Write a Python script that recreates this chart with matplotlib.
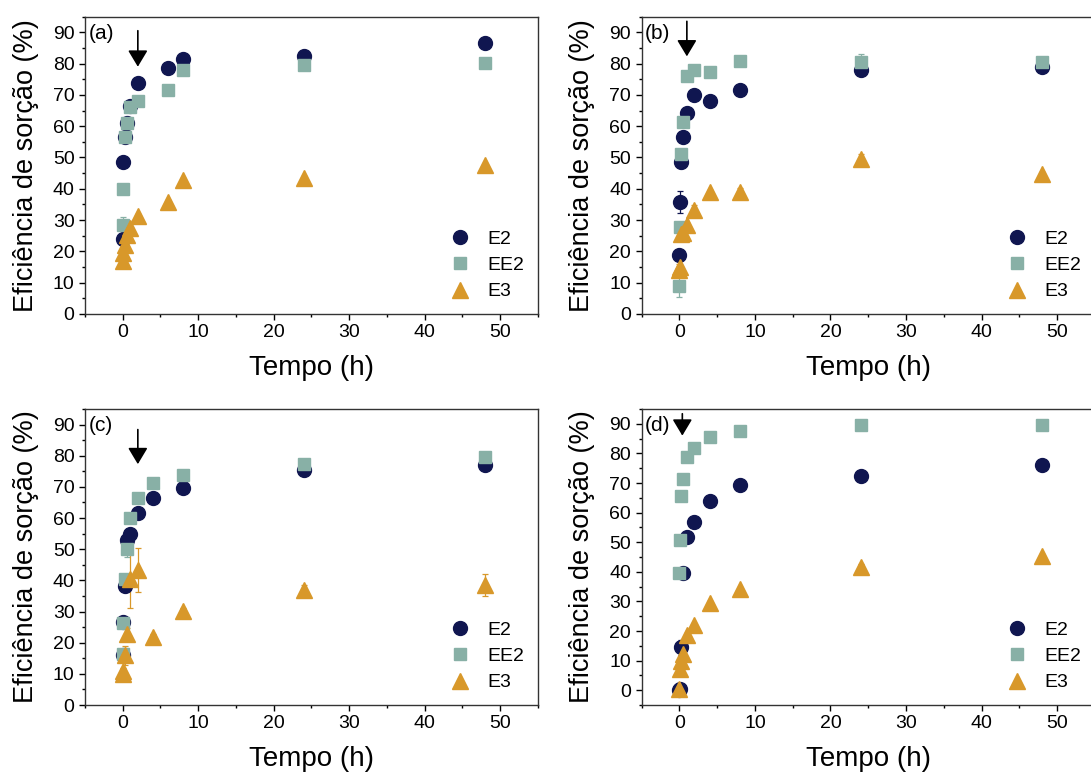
import matplotlib
matplotlib.use('Agg')
import matplotlib.pyplot as plt
import numpy as np
from matplotlib.ticker import MultipleLocator

plt.rcParams['font.family'] = ['Liberation Sans', 'DejaVu Sans']

# Tempos de coleta (h)
t_a = [0, 0.083, 0.25, 0.5, 1, 2, 6, 8, 24, 48]
t_bcd = [0, 0.083, 0.25, 0.5, 1, 2, 4, 8, 24, 48]

# (a)
e2_a = [24.0, 48.5, 56.5, 61.0, 66.3, 73.9, 78.7, 81.6, 82.5, 86.5]
ee2_a = [28.5, 39.9, 56.5, 61.0, 66.0, 68.2, 71.7, 78.1, 79.5, 80.3]
e3_a = [17.0, 19.4, 22.0, 25.3, 27.6, 31.3, 35.9, 42.9, 43.5, 47.5]
e2_a_err = [0.5, 0.5, 0.5, 0.5, 0.5, 0.5, 0.5, 0.5, 0.5, 0.5]
ee2_a_err = [2.5, 0.5, 0.5, 0.5, 0.5, 0.5, 0.5, 0.5, 0.5, 0.5]
e3_a_err = [1.5, 0.5, 0.5, 0.5, 0.5, 0.5, 0.5, 0.5, 0.5, 0.5]

# (b)
e2_b = [18.8, 35.7, 48.5, 56.5, 64.2, 70.1, 67.9, 71.7, 78.0, 79.0]
ee2_b = [9.0, 27.7, 51.2, 61.2, 76.1, 77.8, 77.2, 80.7, 80.5, 80.5]
e3_b = [14.0, 15.0, 25.5, 26.0, 28.5, 33.3, 39.1, 39.1, 49.5, 44.7]
e2_b_err = [1.5, 3.5, 2.0, 0.5, 0.5, 0.5, 0.5, 0.5, 0.5, 0.5]
ee2_b_err = [3.5, 1.0, 0.5, 0.5, 0.5, 0.5, 0.5, 0.5, 2.5, 0.5]
e3_b_err = [2.0, 0.5, 0.5, 0.5, 0.5, 1.5, 0.5, 1.2, 1.5, 0.5]

# (c)
e2_c = [16.0, 26.5, 38.2, 52.9, 54.8, 61.7, 66.3, 69.7, 75.5, 77.0]
ee2_c = [16.5, 26.2, 40.3, 50.0, 59.9, 66.3, 71.4, 73.7, 77.5, 79.5]
e3_c = [10.0, 11.0, 16.0, 22.7, 40.6, 43.3, 21.9, 30.2, 37.0, 38.5]
e2_c_err = [1.5, 1.0, 1.0, 0.5, 0.5, 0.5, 0.5, 0.5, 0.5, 0.5]
ee2_c_err = [1.0, 1.0, 1.0, 2.5, 0.5, 0.5, 0.5, 0.5, 0.5, 0.5]
e3_c_err = [1.0, 1.0, 3.0, 2.0, 9.5, 7.0, 1.0, 1.0, 1.5, 3.5]

# (d)
e2_d = [0.0, 0.5, 14.5, 39.5, 51.8, 56.9, 63.9, 69.2, 72.5, 76.0]
ee2_d = [39.7, 50.9, 65.6, 71.5, 78.8, 81.9, 85.7, 87.5, 89.5, 89.5]
e3_d = [0.5, 7.2, 10.0, 12.3, 18.7, 21.9, 29.6, 34.1, 41.5, 45.5]
e2_d_err = [1.0, 1.0, 2.5, 1.5, 0.5, 0.5, 0.5, 0.5, 0.5, 0.5]
ee2_d_err = [1.0, 0.5, 0.5, 0.5, 0.5, 0.5, 0.5, 0.5, 0.5, 0.5]
e3_d_err = [1.0, 1.0, 0.5, 0.5, 0.5, 0.5, 0.5, 0.5, 1.0, 0.5]

# seta: (tempo, topo, ponta)
setas = [(2, 90.5, 79.0), (1, 93.5, 82.3), (2, 88.4, 77.3), (0.4, 93.4, 86.0)]

cor_e2 = '#101650'
cor_ee2 = '#88b0a6'
cor_e3 = '#d8982a'

fig = plt.figure(figsize=(10.91, 7.81), dpi=100)
posicoes = [
    [0.0779, 0.5980, 0.4152, 0.3807],
    [0.5880, 0.5980, 0.4157, 0.3807],
    [0.0779, 0.0973, 0.4152, 0.3790],
    [0.5880, 0.0973, 0.4157, 0.3790],
]
paineis = [
    ('(a)', t_a, (e2_a, e2_a_err), (ee2_a, ee2_a_err), (e3_a, e3_a_err), (0, 95)),
    ('(b)', t_bcd, (e2_b, e2_b_err), (ee2_b, ee2_b_err), (e3_b, e3_b_err), (0, 95)),
    ('(c)', t_bcd, (e2_c, e2_c_err), (ee2_c, ee2_c_err), (e3_c, e3_c_err), (0, 95)),
    ('(d)', t_bcd, (e2_d, e2_d_err), (ee2_d, ee2_d_err), (e3_d, e3_d_err), (-5, 95)),
]

for pos, (letra, t, e2, ee2, e3, ylim), seta in zip(posicoes, paineis, setas):
    ax = fig.add_axes(pos)
    # barras de erro por baixo dos marcadores
    for (y, yerr), cor in [(e2, cor_e2), (ee2, cor_ee2), (e3, cor_e3)]:
        ax.errorbar(t, y, yerr=yerr, fmt='none', ecolor=cor, elinewidth=0.9,
                    capsize=2, capthick=0.9, zorder=2)
    ax.plot(t, e2[0], 'o', color=cor_e2, ms=10, mec=cor_e2, label='E2', zorder=3)
    ax.plot(t, ee2[0], 's', color=cor_ee2, ms=8.5, mec=cor_ee2, label='EE2', zorder=4)
    ax.plot(t, e3[0], '^', color=cor_e3, ms=11, mec=cor_e3, label='E3', zorder=5)
    ax.set_xlim(-5, 55)
    ax.set_ylim(*ylim)
    ax.xaxis.set_major_locator(MultipleLocator(10))
    ax.xaxis.set_minor_locator(MultipleLocator(5))
    ax.set_yticks(np.arange(0, 91, 10))
    ax.yaxis.set_minor_locator(MultipleLocator(5))
    ax.tick_params(which='both', direction='out', top=False, right=False, labelsize=14)
    ax.tick_params(which='major', length=4, width=1)
    ax.tick_params(which='minor', length=2.5, width=1)
    for s in ax.spines.values():
        s.set_linewidth(1)
        s.set_color('#333333')
    ax.set_xlabel('Tempo (h)', fontsize=20, labelpad=10)
    ax.set_ylabel('Eficiência de sorção (%)', fontsize=19.5, labelpad=10)
    ax.text(0.008, 0.975, letra, transform=ax.transAxes, ha='left', va='top', fontsize=15)
    ax.annotate('', xy=(seta[0], seta[2]), xytext=(seta[0], seta[1]),
                arrowprops=dict(arrowstyle='-|>,head_length=0.5,head_width=0.3',
                                color='k', lw=1.2, mutation_scale=20,
                                shrinkA=0, shrinkB=0))
    ax.legend(loc='lower right', frameon=False, fontsize=14, handletextpad=0.6,
              labelspacing=0.45, borderaxespad=0.3, handlelength=1.6)

fig.savefig('out.png', dpi=100)
